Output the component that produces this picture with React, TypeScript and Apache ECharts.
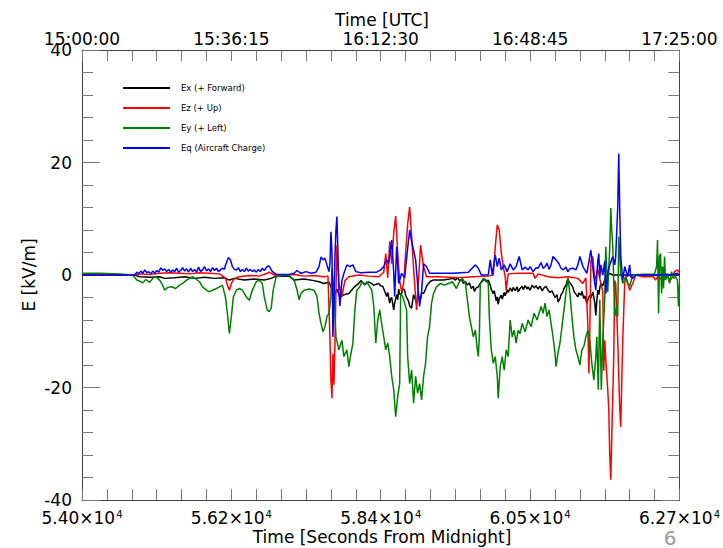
import React, { useEffect, useRef } from "react";
import * as echarts from "echarts";

// Axis ranges (seconds from midnight, kV/m)
const T_START = 54000;
const T_END = 62700;
const T_STEP = 2175;
const Y_MIN = -40;
const Y_MAX = 40;
const Y_STEP = 20;

const seriesNames = ["Ex (+ Forward)", "Ez (+ Up)", "Ey (+ Left)", "Eq (Aircraft Charge)"];
const seriesColors = ["#000000", "#ff0000", "#008000", "#0000ff"];

// [seconds from midnight, kV/m]
const ex: number[][] = [
  [54000, 0.0], [54769, 0.0], [54841, -0.3], [54986, -0.4], [55131, -0.3], [55204, -0.6],
  [55349, -0.5], [55494, -0.3], [55639, -0.6], [55784, -0.4], [55929, -0.6], [56074, -0.5],
  [56146, -0.9], [56219, -0.6], [56364, -0.9], [56509, -0.7], [56654, -0.9], [56755, -0.6],
  [56828, -0.2], [57016, -0.2], [57089, -0.9], [57234, -0.7], [57379, -1.0], [57451, -1.2],
  [57524, -1.5], [57596, -1.3], [57640, -2.5], [57669, -3.8], [57712, -2.5], [57756, -4.0],
  [57814, -3.5], [57886, -3.3], [57959, -2.2], [58031, -1.5], [58060, -1.0], [58118, -1.7],
  [58176, -1.2], [58249, -1.8],
  [58321, -1.5], [58350, -1.9], [58379, -2.0], [58408, -2.9], [58437, -3.8], [58452, -3.1],
  [58481, -5.0], [58495, -4.2], [58510, -4.0], [58539, -6.2], [58553, -5.0], [58582, -3.5],
  [58597, -4.4], [58611, -2.5], [58626, -3.4], [58655, -3.3], [58669, -2.4], [58698, -2.7],
  [58713, -3.6], [58727, -4.0], [58756, -4.7], [58771, -5.5], [58800, -5.9], [58814, -4.6],
  [58829, -3.5], [58858, -4.5], [58872, -5.0], [58901, -3.8], [58930, -4.3], [58945, -3.2],
  [58974, -3.3], [59003, -2.5], [59017, -2.0], [59046, -1.5], [59075, -1.1], [59119, -0.9],
  [59264, -0.9],
  [59409, -0.6], [59438, -0.9], [59467, -0.5], [59496, -1.0], [59525, -0.8], [59554, -1.5],
  [59583, -1.2], [59612, -1.8], [59641, -1.4], [59670, -2.4], [59699, -2.0], [59713, -2.9],
  [59742, -2.3], [59771, -2.1], [59800, -1.5], [59829, -1.1], [59858, -0.7], [59887, -1.2],
  [59916, -0.9], [59945, -1.8], [59960, -2.6], [59989, -3.3], [60003, -2.8], [60032, -4.6],
  [60047, -3.9], [60061, -5.2], [60076, -4.2], [60105, -3.6], [60119, -4.3], [60148, -3.1],
  [60163, -3.7], [60192, -2.6], [60206, -3.1], [60235, -2.3], [60264, -2.9], [60279, -2.2],
  [60308, -2.8], [60337, -2.1], [60351, -3.0], [60380, -2.4], [60409, -2.0], [60424, -2.6],
  [60453, -1.9], [60482, -2.5], [60496, -2.1], [60525, -2.7], [60554, -1.8], [60583, -2.3],
  [60612, -1.9], [60641, -2.5], [60670, -2.0], [60699, -2.8], [60728, -2.3], [60757, -2.0],
  [60786, -2.7], [60815, -3.1], [60844, -2.8], [60873, -3.6], [60888, -4.0], [60917, -3.5],
  [60931, -4.8], [60960, -4.2], [60975, -3.5], [61004, -3.0], [61018, -2.4], [61047, -1.8],
  [61076, -0.6], [61091, -1.2], [61120, -1.6], [61149, -2.2], [61163, -2.9], [61192, -3.4],
  [61221, -3.9], [61236, -3.2], [61265, -3.6], [61279, -2.9], [61308, -4.2], [61323, -3.7],
  [61352, -5.1], [61366, -4.4], [61395, -3.6], [61410, -4.1], [61439, -3.0], [61468, -5.0],
  [61482, -7.2], [61497, -4.5], [61511, -2.7], [61526, -3.5], [61540, -2.3], [61555, -1.5],
  [61584, -1.9], [61627, -0.3], [61685, 0.3], [61729, 0.0], [62700, 0.0],
];

const ez: number[][] = [
  [54000, 0.1], [54769, 0.0], [54841, 0.2], [54986, 0.1], [55131, 0.3], [55276, 0.4],
  [55421, 0.3], [55566, 0.2], [55711, 0.4], [55856, 0.3], [56001, 0.2], [56088, -0.5],
  [56117, -1.8], [56146, -2.7], [56175, -1.5], [56219, -0.6], [56291, -0.3], [56436, -0.1],
  [56581, -0.2], [56697, 0.3], [56726, 0.5], [56799, 0.0], [56944, 0.0], [57089, 0.1],
  [57234, -0.2], [57379, -0.1], [57524, -0.3], [57582, -0.2], [57611, -11.5], [57625, -18.7],
  [57640, -21.9], [57654, -14.0], [57669, -19.5], [57683, -12.0], [57712, 5.3], [57741, -1.5],
  [57785, -3.8], [57828, -1.0], [57886, -0.3], [58031, 0.0], [58176, -0.2], [58321, -0.3],
  [58394, 0.5], [58423, 3.8], [58452, -0.5], [58481, 6.0], [58510, 2.0], [58539, 7.5],
  [58568, 10.5], [58597, 4.0], [58626, -1.0], [58655, -3.0], [58684, -1.5], [58713, 4.0],
  [58742, 9.0], [58771, 12.1], [58800, 7.0], [58829, 1.0], [58872, -6.2], [58901, -1.0],
  [58930, 5.3], [58974, 1.5], [59017, -0.3], [59191, -0.3], [59481, -0.5], [59699, -0.3],
  [59916, -0.2], [59989, 0.0], [60018, 5.0], [60047, 8.9], [60076, 8.0], [60105, 4.0],
  [60134, 1.5], [60163, -0.3], [60177, -2.7], [60206, 0.2], [60351, 0.3], [60569, 0.3],
  [60598, -0.6], [60641, 0.2], [60786, -0.3], [60931, -0.5], [61076, -0.3], [61221, -0.6],
  [61294, -1.5], [61337, -0.5], [61366, -9.0], [61381, -17.5], [61395, -10.0], [61410, 2.5],
  [61439, 3.3], [61468, -1.0], [61511, 1.0], [61555, -1.5], [61584, -3.0], [61598, -17.0],
  [61613, -11.6], [61627, -15.0], [61656, -20.4], [61671, -24.0], [61685, -32.0], [61700, -36.4],
  [61714, -29.0], [61743, -14.5], [61758, -1.0], [61772, -1.5], [61801, -11.6], [61830, -23.5],
  [61845, -27.0], [61874, -11.6], [61903, -1.5], [61917, 0.0], [61975, -2.7], [62019, -1.5],
  [62062, 0.0], [62164, -0.3], [62323, -0.3], [62352, -0.9], [62381, -0.3], [62454, -0.9],
  [62526, -0.3], [62555, -1.2], [62599, -0.3], [62628, 0.6], [62671, 0.9], [62700, 0.5],
];

const ey: number[][] = [
  [54000, 0.3], [54261, 0.3], [54551, 0.2], [54740, 0.0], [54798, -0.9], [54841, -1.1],
  [54885, -1.4], [54928, -0.8], [54986, -1.3], [55030, -0.6], [55059, -0.3], [55102, -0.6],
  [55131, -0.9], [55175, -1.8], [55204, -2.7], [55247, -2.2], [55305, -2.1], [55363, -2.4],
  [55421, -1.8], [55465, -1.5], [55523, -0.9], [55566, -0.6], [55610, -0.3], [55668, -0.8],
  [55711, -1.2], [55755, -2.1], [55813, -2.7], [55856, -3.0], [55900, -2.7], [55958, -2.4],
  [56001, -2.1], [56045, -1.8], [56088, -3.9], [56117, -6.8], [56146, -10.4], [56175, -7.4],
  [56204, -3.9], [56248, -2.7], [56291, -2.4], [56335, -2.7], [56393, -3.9], [56436, -4.5],
  [56480, -2.7], [56538, -1.2], [56581, -0.9], [56625, -1.5], [56654, -3.9], [56697, -6.2],
  [56726, -6.5], [56755, -5.9], [56784, -2.7], [56828, -0.3], [56915, -0.1], [57016, -0.1],
  [57089, -0.9], [57132, -2.7], [57161, -4.4], [57190, -3.3], [57234, -2.7], [57306, -2.5],
  [57379, -2.7], [57422, -3.8], [57451, -6.8], [57480, -8.6], [57509, -10.1], [57538, -9.2],
  [57567, -7.4], [57596, -6.8], [57625, -3.8], [57640, 1.2], [57669, -2.7], [57698, -11.0],
  [57741, -13.3], [57785, -11.6], [57814, -14.5], [57857, -13.3], [57886, -16.3], [57915, -14.0],
  [57944, -12.2], [57973, -6.2], [58002, -2.7], [58046, -2.1], [58075, -1.2], [58118, -1.8],
  [58147, -1.2], [58191, -2.1], [58220, -2.7], [58249, -5.6], [58278, -12.1], [58307, -8.0],
  [58336, -6.2], [58350, -7.6], [58394, -11.0], [58423, -13.3], [58452, -12.1], [58481, -14.5],
  [58510, -18.0], [58539, -20.4], [58568, -25.2], [58597, -21.6], [58626, -19.3], [58640, -3.3],
  [58669, -3.8], [58698, -5.0], [58727, -6.2], [58742, -14.5], [58771, -19.3], [58800, -16.9],
  [58829, -22.8], [58858, -18.0], [58887, -21.0], [58916, -19.3], [58945, -22.2], [58974, -18.0],
  [59003, -15.7], [59032, -11.0], [59061, -9.2], [59090, -5.0], [59119, -3.3], [59162, -2.1],
  [59220, -1.5], [59278, -1.8], [59336, -1.5], [59394, -1.2], [59452, -2.4], [59496, -1.2],
  [59539, -0.6], [59583, -1.5], [59612, -4.4], [59641, -7.4], [59670, -9.2], [59699, -11.0],
  [59728, -9.8], [59757, -13.3], [59771, -14.5], [59786, -11.0], [59800, -1.5], [59844, -0.6],
  [59887, -0.9], [59916, -1.5], [59931, -7.4], [59960, -13.3], [59989, -15.7], [60018, -14.5],
  [60047, -18.0], [60061, -21.9], [60090, -16.3], [60119, -14.5], [60148, -16.9], [60177, -13.3],
  [60206, -14.5], [60235, -8.0], [60264, -11.0], [60293, -9.8], [60322, -12.1], [60351, -9.8],
  [60380, -10.4], [60409, -8.6], [60453, -10.1], [60496, -8.0], [60540, -9.2], [60583, -6.8],
  [60627, -8.0], [60641, -7.4], [60685, -5.6], [60714, -6.8], [60743, -5.0], [60772, -7.4],
  [60801, -6.2], [60830, -8.6], [60859, -11.0], [60888, -13.9], [60902, -16.3], [60931, -13.9],
  [60960, -12.1], [60989, -9.2], [61018, -6.2], [61047, -3.3], [61076, -0.6], [61105, -3.3],
  [61134, -7.4], [61163, -11.0], [61192, -13.3], [61221, -14.5], [61250, -16.0], [61279, -13.3],
  [61308, -12.7], [61337, -11.0], [61366, -9.8], [61395, -11.6], [61424, -15.7], [61453, -18.7],
  [61482, -14.5], [61497, -11.0], [61518, -20.4], [61540, -4.4], [61562, -20.4], [61584, -11.6],
  [61613, -3.8], [61627, 5.0], [61656, -3.0], [61685, 5.0], [61700, 11.9], [61714, 8.0],
  [61729, 5.0], [61758, -7.4], [61787, -5.6], [61801, -7.4], [61816, 6.8], [61845, 0.3],
  [61874, -1.5], [61917, -0.3], [61946, -1.5], [61975, -2.0], [62019, 0.0], [62091, 0.1],
  [62338, 0.2], [62367, 1.5], [62381, 6.2], [62396, -6.8], [62410, 3.3], [62425, 3.8],
  [62439, -3.3], [62454, 1.5], [62468, -2.4], [62483, 3.3], [62497, -0.9], [62526, 0.3],
  [62555, -1.5], [62584, 0.6], [62613, -0.6], [62642, -0.3], [62671, -0.9], [62686, -5.6],
  [62700, -1.5],
];

const eq: number[][] = [
  [54000, 0.0], [54769, 0.0],
  [54798, 0.5], [54827, 0.2], [54856, 0.7], [54885, 0.3], [54914, 0.9], [54943, 0.4],
  [54972, 0.6], [55001, 0.2], [55030, 0.7], [55059, 0.3], [55088, 0.8], [55117, 0.5],
  [55146, 1.3], [55175, 0.8], [55204, 1.1], [55233, 0.6], [55262, 1.0], [55291, 0.5],
  [55320, 0.9], [55349, 0.6], [55378, 1.2], [55407, 0.5], [55436, 0.8], [55465, 1.3],
  [55494, 0.7], [55523, 1.1], [55552, 0.5], [55581, 1.2], [55610, 0.6], [55639, 1.0],
  [55668, 0.5], [55697, 1.4], [55726, 0.6], [55755, 0.9], [55784, 1.5], [55813, 0.7],
  [55842, 1.1], [55871, 0.6], [55900, 1.3], [55929, 0.8], [55958, 1.2], [55987, 0.6],
  [56016, 0.9], [56045, 1.2], [56074, 1.0], [56088, 1.7], [56132, 3.1], [56161, 2.7],
  [56190, 1.5], [56219, 1.0], [56248, 0.9], [56277, 1.3], [56306, 0.6], [56335, 1.0],
  [56364, 0.6], [56393, 1.2], [56422, 0.7], [56451, 1.0], [56480, 0.6], [56509, 0.9],
  [56538, 0.5], [56567, 1.0], [56596, 0.6], [56625, 1.2], [56654, 0.8], [56697, 1.5],
  [56726, 1.6], [56755, 0.9], [56784, 0.5], [56828, 0.1], [57016, 0.1], [57089, 0.3],
  [57132, 0.8], [57190, 0.3], [57263, 0.6], [57335, 0.3], [57408, 0.5], [57451, 1.5],
  [57480, 3.2], [57509, 2.7], [57538, 3.0], [57567, 1.8], [57596, 0.6], [57611, 2.0],
  [57625, 7.7], [57640, 4.0], [57654, -11.0], [57669, -5.0], [57683, 3.0], [57698, 8.0],
  [57712, 10.4], [57727, 4.0], [57741, -3.0], [57756, -5.5], [57785, -1.0], [57814, 0.3],
  [57857, 1.8], [57901, 1.5], [57944, 1.8], [57988, 0.6], [58060, 0.4], [58176, 0.5],
  [58292, 0.5], [58350, 0.9], [58394, 1.5], [58437, 2.7], [58466, 2.0], [58510, 6.2],
  [58539, 0.5], [58553, -3.8], [58582, 5.0], [58611, -1.5], [58655, 0.3], [58698, -0.5],
  [58727, 3.0], [58771, 8.0], [58800, 6.0], [58829, 4.4], [58858, 2.7], [58887, -1.5],
  [58916, -5.6], [58945, -3.0], [58974, 2.0], [59017, 1.5], [59061, 0.3], [59191, 0.3],
  [59409, 0.3], [59626, 0.5], [59728, 1.8], [59771, 1.2], [59815, 0.0], [59916, 0.0],
  [59945, 2.7], [59974, 0.0], [60018, 3.6], [60047, 1.5], [60076, 3.0], [60105, 0.9],
  [60148, 1.8], [60192, 0.6], [60235, 2.0], [60279, 0.9], [60322, 1.5], [60366, 3.3],
  [60409, 0.9], [60453, 1.4], [60496, 0.9], [60525, 1.5], [60569, 0.6], [60612, 1.3],
  [60641, 1.2], [60685, 2.2], [60714, 1.2], [60743, 1.5], [60772, 2.1], [60801, 1.0],
  [60830, 1.8], [60859, 3.3], [60902, 2.7], [60946, 2.0], [60975, 1.2], [61004, 0.9],
  [61047, 1.4], [61076, 0.6], [61105, 1.1], [61149, 1.2], [61192, 0.9], [61221, 1.8],
  [61250, 3.3], [61294, 1.5], [61352, 0.3], [61410, 4.4], [61453, -0.3], [61482, -2.7],
  [61511, 2.5], [61526, 3.8], [61540, -0.5], [61555, 1.8], [61584, 0.0], [61613, 2.5],
  [61627, -3.3], [61656, 0.5], [61685, 1.8], [61729, 3.3], [61758, 1.8], [61772, 3.3],
  [61801, 12.0], [61816, 21.6], [61830, 12.0], [61845, 3.3], [61874, -0.9], [61903, 1.5],
  [61946, -0.3], [61975, 1.8], [61990, -0.3], [62019, -0.6], [62062, 0.0], [62381, 0.0],
  [62599, 0.1], [62671, 0.3], [62700, 0.0],
];

const allSeries = [ex, ez, ey, eq];

const FONT = "DejaVu Sans";

function pad2(n: number) {
  return n < 10 ? "0" + n : "" + n;
}
function toUTC(sec: number) {
  const s = Math.round(sec);
  const h = Math.floor(s / 3600);
  const m = Math.floor((s % 3600) / 60);
  const ss = s % 60;
  return `${pad2(h)}:${pad2(m)}:${pad2(ss)}`;
}
function sciLabel(sec: number) {
  const mant = (Math.round(sec / 100) / 100).toFixed(2);
  return `{m|${mant}×10}{s|4}`;
}

export default function App() {
  const ref = useRef<HTMLDivElement>(null);
  useEffect(() => {
    if (!ref.current) return;
    const chart = echarts.init(ref.current, undefined, { renderer: "svg" });
    const axisLineColor = "#444";
    const tickColor = "#777";
    const xCommon = {
      type: "value" as const,
      min: 0,
      max: T_END - T_START,
      interval: T_STEP,
      splitLine: { show: false },
      minorSplitLine: { show: false },
      axisLine: { show: true, onZero: false, lineStyle: { color: axisLineColor, width: 1 } },
      axisTick: { show: true, inside: true, length: 11, lineStyle: { color: tickColor, width: 1 } },
      minorTick: { show: true, splitNumber: 6, length: 11, lineStyle: { color: tickColor, width: 1 } },
    };
    const yCommon = {
      type: "value" as const,
      min: Y_MIN,
      max: Y_MAX,
      interval: Y_STEP,
      splitLine: { show: false },
      minorSplitLine: { show: false },
      axisLine: { show: true, onZero: false, lineStyle: { color: axisLineColor, width: 1 } },
      axisTick: { show: true, inside: true, length: 18, lineStyle: { color: tickColor, width: 1 } },
      minorTick: { show: true, splitNumber: 5, length: 11, lineStyle: { color: tickColor, width: 1 } },
    };
    chart.setOption({
      animation: false,
      backgroundColor: "#ffffff",
      grid: { left: 82, right: 41, top: 50, bottom: 48, containLabel: false },
      legend: {
        show: true,
        orient: "vertical",
        left: 123,
        top: 82,
        padding: 0,
        itemWidth: 47,
        itemHeight: 2,
        itemGap: 8,
        icon: "rect",
        data: seriesNames,
        textStyle: { fontFamily: FONT, fontSize: 8.5, color: "#000", lineHeight: 12, padding: [0, 0, 0, 6] },
      },
      xAxis: [
        {
          ...xCommon,
          position: "bottom",
          axisLabel: {
            show: true,
            margin: 9,
            fontFamily: FONT,
            fontSize: 17,
            color: "#000",
            showMinLabel: true,
            showMaxLabel: true,
            hideOverlap: false,
            formatter: (v: number) => sciLabel(v + T_START),
            rich: {
              m: { fontFamily: FONT, fontSize: 17, color: "#000" },
              s: { fontFamily: FONT, fontSize: 10, color: "#000", verticalAlign: "top", padding: [0, 0, 0, 1] },
            },
          },
        },
        {
          ...xCommon,
          position: "top",
          axisLabel: {
            show: true,
            margin: 3,
            fontFamily: FONT,
            fontSize: 17,
            color: "#000",
            showMinLabel: true,
            showMaxLabel: true,
            hideOverlap: false,
            formatter: (v: number) => toUTC(v + T_START),
          },
        },
      ],
      yAxis: [
        {
          ...yCommon,
          position: "left",
          axisLabel: { show: true, margin: 10, fontFamily: FONT, fontSize: 17, color: "#000" },
        },
        {
          ...yCommon,
          position: "right",
          axisLabel: { show: false },
        },
      ],
      graphic: [
        {
          type: "text",
          x: 382,
          y: 20,
          style: { text: "Time [UTC]", font: `17px "${FONT}"`, fill: "#000", align: "center", verticalAlign: "middle" },
        },
        {
          type: "text",
          x: 382,
          y: 537,
          style: {
            text: "Time [Seconds From Midnight]",
            font: `17px "${FONT}"`,
            fill: "#000",
            align: "center",
            verticalAlign: "middle",
          },
        },
        {
          type: "text",
          x: 29,
          y: 275,
          rotation: Math.PI / 2,
          style: { text: "E [kV/m]", font: `17px "${FONT}"`, fill: "#000", align: "center", verticalAlign: "middle" },
        },
        {
          type: "text",
          x: 670,
          y: 538,
          style: { text: "6", font: `20px "${FONT}"`, fill: "#999", align: "center", verticalAlign: "middle" },
        },
      ],
      series: allSeries.map((d, i) => ({
        name: seriesNames[i],
        type: "line",
        xAxisIndex: 0,
        yAxisIndex: 0,
        showSymbol: false,
        symbol: "none",
        clip: true,
        color: seriesColors[i],
        lineStyle: { color: seriesColors[i], width: 1.5 },
        data: d.map((p) => [p[0] - T_START, p[1]]),
        z: 2 + i,
      })),
    });
    return () => chart.dispose();
  }, []);
  return (
    <div
      ref={ref}
      style={{ position: "fixed", left: 0, top: 0, width: 723, height: 548, background: "#fff" }}
    />
  );
}
